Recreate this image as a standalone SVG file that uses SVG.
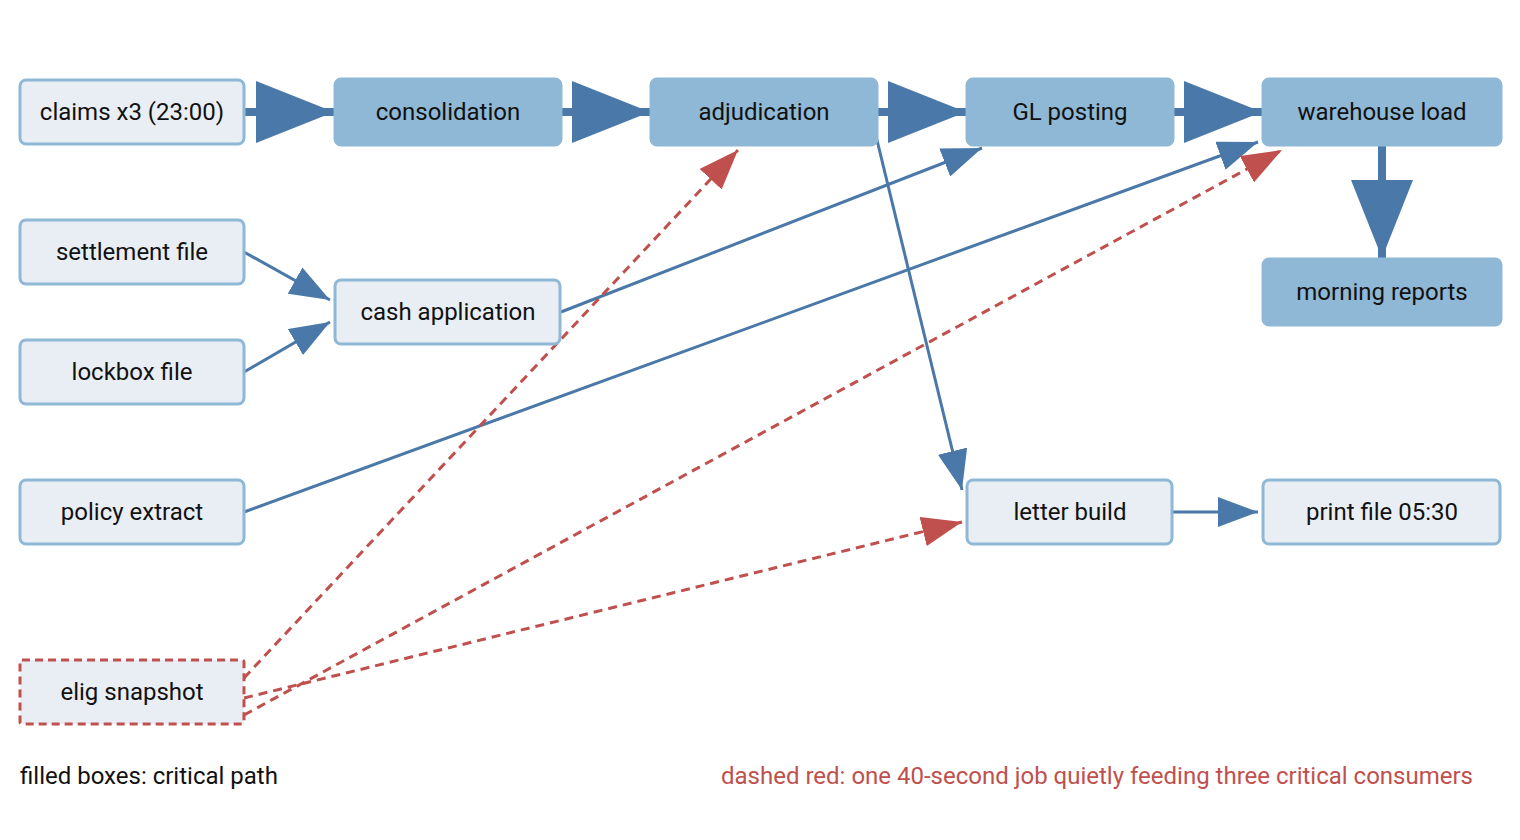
<svg xmlns="http://www.w3.org/2000/svg" width="1520" height="840" viewBox="0 0 1520 840">
<style>
text{font-family:Roboto,"Liberation Sans",sans-serif;font-size:24px;fill:#111}
.lbl{text-anchor:middle;dominant-baseline:central}
.lt{fill:#e9eef5;stroke:#8fb8d6;stroke-width:3}
.cr{fill:#8fb8d6;stroke:#8fb8d6;stroke-width:3}
.dr{fill:#e9eef5;stroke:#c0504d;stroke-width:3;stroke-dasharray:8 5}
.thick{stroke:#4a78a8;stroke-width:8;fill:none}
.thin{stroke:#4a78a8;stroke-width:3;fill:none}
.red{stroke:#c0504d;stroke-width:3;fill:none;stroke-dasharray:9 6}
</style>
<defs>
<marker id="big" markerUnits="userSpaceOnUse" markerWidth="78" markerHeight="64" refX="78" refY="32" orient="auto"><path d="M0,1 L78,32 L0,63 Z" fill="#4a78a8"/></marker>
<marker id="sm" markerUnits="userSpaceOnUse" markerWidth="40" markerHeight="30" refX="40" refY="15" orient="auto"><path d="M0,0 L40,15 L0,30 Z" fill="#4a78a8"/></marker>
<marker id="rd" markerUnits="userSpaceOnUse" markerWidth="40" markerHeight="30" refX="40" refY="15" orient="auto"><path d="M0,0 L40,15 L0,30 Z" fill="#c0504d"/></marker>
</defs>
<g id="connectors">
<line class="thick" x1="244" y1="112" x2="334" y2="112" marker-end="url(#big)"/>
<line class="thick" x1="561" y1="112" x2="650" y2="112" marker-end="url(#big)"/>
<line class="thick" x1="877" y1="112" x2="966" y2="112" marker-end="url(#big)"/>
<line class="thick" x1="1173" y1="112" x2="1262" y2="112" marker-end="url(#big)"/>
<line class="thick" x1="1382" y1="145" x2="1382" y2="258" marker-end="url(#big)"/>
<line class="thin" x1="244" y1="252" x2="330" y2="300" marker-end="url(#sm)"/>
<line class="thin" x1="244" y1="372" x2="330" y2="322" marker-end="url(#sm)"/>
<line class="thin" x1="561" y1="312" x2="982" y2="148" marker-end="url(#sm)"/>
<line class="thin" x1="244" y1="512" x2="1258" y2="142" marker-end="url(#sm)"/>
<line class="thin" x1="876" y1="136" x2="962" y2="490" marker-end="url(#sm)"/>
<line class="thin" x1="1172" y1="512" x2="1258" y2="512" marker-end="url(#sm)"/>
<line class="red" x1="244" y1="678" x2="738" y2="150" marker-end="url(#rd)"/>
<line class="red" x1="244" y1="715" x2="1282" y2="150" marker-end="url(#rd)"/>
<line class="red" x1="244" y1="698" x2="962" y2="522" marker-end="url(#rd)"/>
</g>
<g id="claims"><rect class="lt" x="20" y="80" width="224" height="64" rx="6"/><text class="lbl" x="132" y="112">claims x3 (23:00)</text></g>
<g id="consolidation"><rect class="cr" x="335" y="79" width="226" height="66" rx="6"/><text class="lbl" x="448" y="112">consolidation</text></g>
<g id="adjudication"><rect class="cr" x="651" y="79" width="226" height="66" rx="6"/><text class="lbl" x="764" y="112">adjudication</text></g>
<g id="gl"><rect class="cr" x="967" y="79" width="206" height="66" rx="6"/><text class="lbl" x="1070" y="112">GL posting</text></g>
<g id="warehouse"><rect class="cr" x="1263" y="79" width="238" height="66" rx="6"/><text class="lbl" x="1382" y="112">warehouse load</text></g>
<g id="morning"><rect class="cr" x="1263" y="259" width="238" height="66" rx="6"/><text class="lbl" x="1382" y="292">morning reports</text></g>
<g id="settlement"><rect class="lt" x="20" y="220" width="224" height="64" rx="6"/><text class="lbl" x="132" y="252">settlement file</text></g>
<g id="cash"><rect class="lt" x="335" y="280" width="225" height="64" rx="6"/><text class="lbl" x="448" y="312">cash application</text></g>
<g id="lockbox"><rect class="lt" x="20" y="340" width="224" height="64" rx="6"/><text class="lbl" x="132" y="372">lockbox file</text></g>
<g id="policy"><rect class="lt" x="20" y="480" width="224" height="64" rx="6"/><text class="lbl" x="132" y="512">policy extract</text></g>
<g id="letter"><rect class="lt" x="967" y="480" width="205" height="64" rx="6"/><text class="lbl" x="1070" y="512">letter build</text></g>
<g id="print"><rect class="lt" x="1263" y="480" width="237" height="64" rx="6"/><text class="lbl" x="1382" y="512">print file 05:30</text></g>
<g id="elig"><rect class="dr" x="20" y="660" width="224" height="64" rx="2"/><text class="lbl" x="132" y="692">elig snapshot</text></g>
<text x="20" y="784">filled boxes: critical path</text>
<text x="1473" y="784" style="text-anchor:end;fill:#c0504d">dashed red: one 40-second job quietly feeding three critical consumers</text>
</svg>
